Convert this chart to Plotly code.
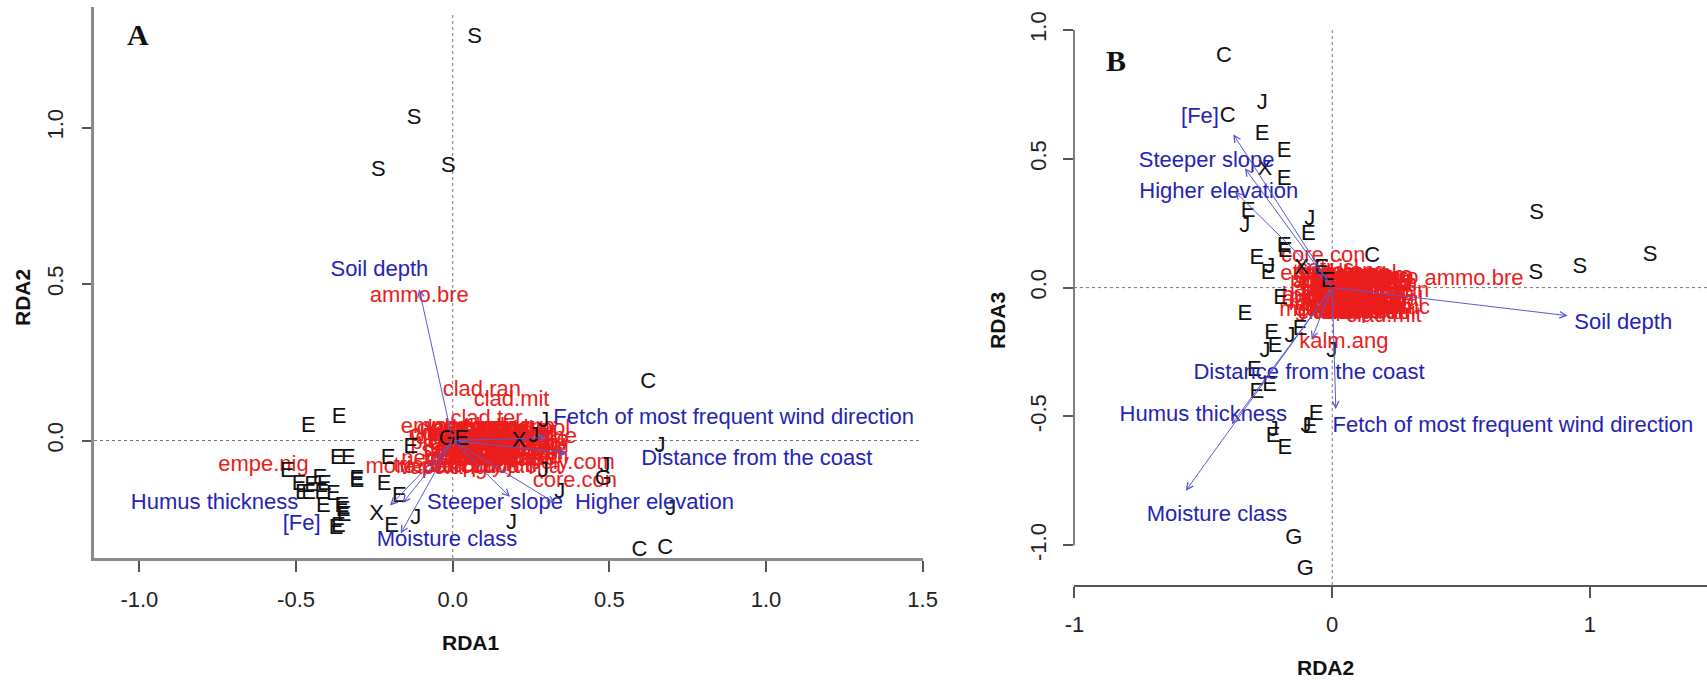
import plotly.graph_objects as go

W, H = 1707, 681

# ---------------- Panel A (RDA1 vs RDA2) ----------------
siteA_lab = ["S", "S", "S", "S", "C", "C", "C", "E", "E", "J", "G", "E", "X", "J", "J", "E",
             "J", "G", "J", "J", "J", "J", "J", "X", "E", "E", "E", "E", "E", "E", "E",
             "E", "E", "E", "E", "E", "E", "E", "E", "E", "E", "E", "E", "E", "E", "E", "E"]
siteA_x = [0.07, -0.123, -0.237, -0.014, 0.624, 0.596, 0.678, -0.461, -0.363, 0.291, -0.017, 0.029,
           0.212, 0.259, 0.662, -0.134, 0.486, 0.481, 0.289, 0.342, 0.696, -0.118, 0.188, -0.243,
           -0.195, -0.170, -0.219, -0.206, -0.306, -0.368, -0.333, -0.528, -0.49, -0.48, -0.46,
           -0.45, -0.424, -0.41, -0.418, -0.381, -0.413, -0.354, -0.35, -0.347, -0.365, -0.306, -0.372]
siteA_y = [1.286, 1.029, 0.864, 0.875, 0.185, -0.35, -0.344, 0.046, 0.074, 0.060, 0.002, 0.004,
           -0.004, 0.012, -0.02, -0.022, -0.084, -0.124, -0.1, -0.167, -0.22, -0.249, -0.265, -0.238,
           -0.275, -0.18, -0.139, -0.057, -0.132, -0.057, -0.057, -0.1, -0.14, -0.17, -0.17,
           -0.145, -0.12, -0.14, -0.168, -0.174, -0.211, -0.21, -0.225, -0.24, -0.275, -0.126, -0.28]

species = ["ammo.bre", "clad.ran", "clad.mit", "clad.ter", "empe.nig", "core.con", "kalm.ang",
           "gayl.bac", "poly.com", "more.pen", "trie.bor", "vacc.ang", "aula.pal", "arct.uva",
           "poly.jun", "clad.bor", "clad.uni", "clad.gra", "cetr.isl", "vacc.vit", "rhod.gro",
           "dich.sco", "huds.tom", "desc.fle", "care.sil", "juni.com", "myri.gal", "pleu.sch",
           "spha.cap", "clad.arb", "clad.cri", "clad.ste", "clad.mac", "clad.coc", "rubu.cha",
           "corn.can", "soli.sem", "lath.jap", "fest.rub", "sibb.tri",
           "empe.eam", "vacc.myr", "vacc.mac", "rhod.can", "ledu.gro", "andr.pol", "cham.cal",
           "myri.pen", "prun.pum", "rosa.vir", "amel.sp", "sorb.ame", "pice.mar", "abie.bal",
           "lari.lar", "pinu.ban", "betu.pap", "alnu.cri", "sali.sp", "coma.pal", "iris.ver",
           "spir.tom", "aron.mel", "ilex.ver", "nemo.muc", "gaul.his", "lina.bor", "maia.can",
           "copt.tri", "trie.rem"]
specA_x = [-0.107, 0.093, 0.188, 0.108, -0.604, 0.390, 0.07, 0.235, 0.380, -0.13, -0.08,
           -0.03, 0.03, 0.09, 0.15, 0.01, 0.06, 0.11, 0.16, 0.21, 0.24,
           0.01, 0.07, 0.13, 0.19, 0.24, 0.03, 0.09, 0.15, 0.21, 0.02,
           0.08, 0.14, 0.2, 0.21, -0.0, 0.05, 0.12, 0.17, 0.23,
           0.0, 0.05, 0.1, 0.15, 0.2, 0.25,
           0.0, 0.05, 0.1, 0.15, 0.2, 0.25,
           0.0, 0.05, 0.1, 0.15, 0.2, 0.25,
           0.0, 0.05, 0.1, 0.15, 0.2, 0.25,
           0.0, 0.05, 0.1, 0.15, 0.2, 0.25]
specA_y = [0.460, 0.161, 0.127, 0.068, -0.081, -0.132, -0.045, -0.030, -0.075, -0.085, -0.082,
           -0.088, -0.084, -0.086, -0.082, 0.035, 0.038, 0.030, 0.033, 0.02, 0.0,
           0.005, 0.0, -0.005, 0.008, -0.02, -0.03, -0.035, -0.04, -0.045, -0.06,
           -0.058, -0.065, -0.062, -0.085, 0.02, 0.015, 0.018, 0.012, 0.03,
           0.04, 0.042, 0.04, 0.038, 0.04, 0.035,
           0.015, 0.018, 0.012, 0.016, 0.014, 0.01,
           -0.01, -0.012, -0.008, -0.01, -0.014, -0.012,
           -0.035, -0.033, -0.037, -0.035, -0.032, -0.04,
           -0.06, -0.062, -0.058, -0.06, -0.063, -0.055]

env = ["Soil depth", "Fetch of most frequent wind direction", "Distance from the coast",
       "Higher elevation", "Steeper slope", "Moisture class", "Humus thickness", "[Fe]"]
envA_x = [-0.107, 0.30, 0.364, 0.327, 0.183, -0.166, -0.20, -0.16]
envA_y = [0.483, 0.009, -0.039, -0.20, -0.18, -0.297, -0.208, -0.20]
envA_lx = [-0.234, 0.897, 0.971, 0.644, 0.135, -0.018, -0.76, -0.482]
envA_ly = [0.5425, 0.071, -0.062, -0.2, -0.2, -0.318, -0.2, -0.267]

# ---------------- Panel B (RDA2 vs RDA3) ----------------
siteB_lab = ["C", "J", "C", "E", "E", "X", "E", "E", "J", "J", "E", "E", "E", "E", "E", "J",
             "X", "E", "E", "C", "E", "E", "E", "E", "J", "J", "E", "J", "E", "E", "E", "E",
             "J", "E", "J", "E", "E", "G", "G", "S", "S", "S", "S"]
siteB_x = [-0.42, -0.272, -0.406, -0.272, -0.187, -0.261, -0.187, -0.326, -0.339, -0.087, -0.093,
           -0.187, -0.183, -0.293, -0.249, -0.242, -0.119, -0.041, -0.016, 0.155, -0.2, -0.339,
           -0.235, -0.125, -0.164, -0.261, -0.222, -0.002, -0.302, -0.243, -0.293, -0.063,
           -0.102, -0.087, -0.229, -0.229, -0.184, -0.149, -0.104, 0.793, 0.79, 0.961, 1.233]
siteB_y = [0.896, 0.716, 0.664, 0.593, 0.528, 0.457, 0.418, 0.295, 0.237, 0.263, 0.205,
           0.159, 0.14, 0.114, 0.056, 0.077, 0.075, 0.075, 0.023, 0.12, -0.041, -0.103,
           -0.177, -0.164, -0.19, -0.248, -0.229, -0.248, -0.322, -0.378, -0.407, -0.494,
           -0.539, -0.541, -0.555, -0.578, -0.623, -0.973, -1.093, 0.289, 0.056, 0.079, 0.123]

specB_x = [0.55, 0.225, 0.20, 0.05, -0.02, -0.035, 0.045, 0.07, 0.12, -0.025, -0.02,
           0.04, 0.10, 0.16, -0.02, 0.04, 0.10, 0.16, -0.017, 0.04, 0.10,
           0.16, -0.02, 0.04, 0.10, 0.16, -0.02, 0.04, 0.10, 0.16, 0.0,
           0.07, 0.13, 0.01, 0.08, 0.14, 0.03, 0.11, 0.06, 0.13,
           0.0, 0.05, 0.1, 0.15, 0.18,
           0.0, 0.05, 0.1, 0.15, 0.18,
           0.0, 0.05, 0.1, 0.15, 0.18,
           0.0, 0.05, 0.1, 0.15, 0.18,
           0.0, 0.05, 0.1, 0.15, 0.18,
           0.0, 0.05, 0.1, 0.15, 0.18]
specB_y = [0.03, -0.015, -0.113, 0.0, -0.05, 0.12, -0.213, 0.023, -0.06, -0.087, 0.055,
           0.06, 0.05, 0.045, 0.025, 0.02, 0.015, 0.01, 0.069, -0.01, -0.02,
           -0.025, -0.035, -0.04, -0.045, -0.05, -0.065, -0.07, -0.075, -0.08, -0.1,
           -0.095, -0.1, 0.04, 0.035, 0.03, -0.06, -0.06, -0.085, -0.09,
           0.05, 0.048, 0.045, 0.04, 0.035,
           0.02, 0.018, 0.015, 0.012, 0.01,
           -0.01, -0.012, -0.015, -0.018, -0.02,
           -0.04, -0.042, -0.045, -0.048, -0.05,
           -0.07, -0.072, -0.075, -0.078, -0.08,
           -0.09, -0.092, -0.095, -0.098, -0.1]

envB_x = [0.913, 0.014, -0.08, -0.378, -0.339, -0.568, -0.39, -0.384]
envB_y = [-0.109, -0.472, -0.2, 0.373, 0.463, -0.788, -0.53, 0.595]
envB_lx = [1.129, 0.701, -0.09, -0.44, -0.487, -0.447, -0.50, -0.513]
envB_ly = [-0.138, -0.54, -0.333, 0.369, 0.489, -0.886, -0.497, 0.66]

# ---------------- styling ----------------
FONT = "Liberation Sans, Arial, sans-serif"
RED = "#ea1c1c"
BLUE_TXT = "#2424b4"
BLUE_ARR = "#5a5ad0"
BLACK = "#111111"


def px(x):
    return x / W


def py(y):
    return 1 - y / H


fig = go.Figure()


def add_panel(xa, ya, sp_x, sp_y, s_lab, s_x, s_y, e_x, e_y, e_lx, e_ly):
    fig.add_trace(go.Scatter(x=sp_x, y=sp_y, text=species, mode="text", xaxis=xa, yaxis=ya,
                             textfont=dict(family=FONT, size=22, color=RED),
                             cliponaxis=False, hoverinfo="skip", showlegend=False))
    fig.add_trace(go.Scatter(x=s_x, y=s_y, text=s_lab, mode="text", xaxis=xa, yaxis=ya,
                             textfont=dict(family=FONT, size=22, color=BLACK),
                             cliponaxis=False, hoverinfo="skip", showlegend=False))
    fig.add_trace(go.Scatter(x=e_lx, y=e_ly, text=env, mode="text", xaxis=xa, yaxis=ya,
                             textfont=dict(family=FONT, size=22, color=BLUE_TXT),
                             cliponaxis=False, hoverinfo="skip", showlegend=False))
    for hx, hy in zip(e_x, e_y):
        fig.add_annotation(x=hx, y=hy, ax=0, ay=0, xref=xa, yref=ya, axref=xa, ayref=ya,
                           text="", showarrow=True, arrowhead=5, arrowsize=1.3,
                           arrowwidth=1, arrowcolor=BLUE_ARR, standoff=0, startstandoff=0)


add_panel("x", "y", specA_x, specA_y, siteA_lab, siteA_x, siteA_y,
          envA_x, envA_y, envA_lx, envA_ly)
add_panel("x2", "y2", specB_x, specB_y, siteB_lab, siteB_x, siteB_y,
          envB_x, envB_y, envB_lx, envB_ly)

tickfont = dict(family=FONT, size=22, color="#222222")

fig.update_layout(
    width=W, height=H, margin=dict(l=0, r=0, t=0, b=0, autoexpand=False),
    paper_bgcolor="white", plot_bgcolor="white",
    xaxis=dict(domain=[px(94), px(923)], range=[-1.1449, 1.5011],
               tickvals=[-1.0, -0.5, 0.0, 0.5, 1.0, 1.5],
               ticktext=["-1.0", "-0.5", "0.0", "0.5", "1.0", "1.5"],
               ticks="outside", ticklen=11, tickwidth=1.5, tickcolor="#555",
               showline=True, linecolor="#8a8a8a", linewidth=2.5, automargin=False,
               showgrid=False, zeroline=False, tickfont=tickfont, ticklabelstandoff=9),
    yaxis=dict(domain=[py(558), py(7)], range=[-0.3754, 1.385],
               tickvals=[0.0, 0.5, 1.0], ticktext=["0.0", "0.5", "1.0"],
               ticks="outside", ticklen=9, tickwidth=1.5, tickcolor="#555",
               showline=True, linecolor="#8a8a8a", linewidth=2.5, tickangle=-90,
               automargin=False,
               showgrid=False, zeroline=False, tickfont=tickfont, ticklabelstandoff=10),
    xaxis2=dict(domain=[px(1074), 1.0], range=[-1.0019, 1.454],
                tickvals=[-1, 0, 1], ticktext=["-1", "0", "1"],
                ticks="outside", ticklen=11, tickwidth=1.5, tickcolor="#555",
                showline=True, linecolor="#555", linewidth=1.5, anchor="y2",
                automargin=False,
                showgrid=False, zeroline=False, tickfont=tickfont, ticklabelstandoff=8),
    yaxis2=dict(domain=[py(585), 1.0], range=[-1.154, 1.116], anchor="x2",
                tickvals=[-1.0, -0.5, 0.0, 0.5, 1.0],
                ticktext=["-1.0", "-0.5", "0.0", "0.5", "1.0"],
                ticks="outside", ticklen=10, tickwidth=1.5, tickcolor="#555",
                showline=False, tickangle=-90, automargin=False,
                showgrid=False, zeroline=False, tickfont=tickfont, ticklabelstandoff=8),
)

shapes = [
    dict(type="line", xref="x", yref="y domain", x0=0, x1=0, y0=0, y1=0.99,
         line=dict(color="#777", width=1, dash="dot"), layer="below"),
    dict(type="line", xref="x domain", yref="y", x0=0, x1=0.995, y0=0, y1=0,
         line=dict(color="#777", width=1, dash="dot"), layer="below"),
    dict(type="line", xref="x2", yref="y2 domain", x0=0, x1=0, y0=0, y1=0.95,
         line=dict(color="#777", width=1, dash="dot"), layer="below"),
    dict(type="line", xref="x2 domain", yref="y2", x0=0, x1=1, y0=0, y1=0,
         line=dict(color="#777", width=1, dash="dot"), layer="below"),
    dict(type="line", xref="x2 domain", yref="y2", x0=0, x1=0, y0=-1.0, y1=1.0,
         line=dict(color="#555", width=1.5)),
]
fig.update_layout(shapes=shapes)

title_font = dict(family=FONT, size=21, color=BLACK)
for txt, xx, yy, ang in [("<b>RDA1</b>", 470, 642, 0), ("<b>RDA2</b>", 22, 298, -90),
                         ("<b>RDA3</b>", 997, 321, -90), ("<b>RDA2</b>", 1325, 667, 0)]:
    fig.add_annotation(text=txt, x=px(xx), y=py(yy), xref="paper", yref="paper",
                       showarrow=False, textangle=ang, font=title_font,
                       xanchor="center", yanchor="middle")

for txt, xx, yy in [("<b>A</b>", 138, 35), ("<b>B</b>", 1116, 60)]:
    fig.add_annotation(text=txt, x=px(xx), y=py(yy), xref="paper", yref="paper",
                       showarrow=False, font=dict(family="Liberation Serif, Times New Roman, serif",
                                                  size=30, color=BLACK),
                       xanchor="center", yanchor="middle")

fig.write_html("out.html")
